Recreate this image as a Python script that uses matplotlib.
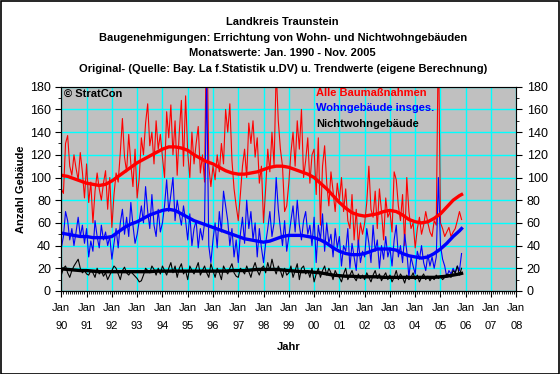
import numpy as np
import matplotlib
matplotlib.use("Agg")
import matplotlib.pyplot as plt
from matplotlib.ticker import MultipleLocator

plt.rcParams["font.family"] = ["Liberation Sans", "DejaVu Sans"]

# monthly values Jan 1990 - Nov 2005
alle = [
    90, 86, 130, 137, 110, 102, 120, 108, 98, 122, 105, 82,      # 1990
    112, 78, 96, 60, 88, 104, 90, 80, 95, 106, 72, 100,          # 1991
    56, 85, 104, 96, 122, 152, 118, 105, 138, 112, 92, 125,      # 1992
    82, 100, 135, 120, 148, 165, 128, 140, 112, 150, 125, 138,   # 1993
    118, 100, 158, 135, 164, 120, 150, 102, 140, 168, 110, 172,  # 1994
    122, 100, 140, 112, 130, 145, 104, 120, 96, 250, 110, 92,    # 1995
    110, 98, 120, 105, 130, 112, 160, 140, 165, 115, 90, 75,     # 1996
    62, 85, 110, 125, 100, 148, 130, 150, 118, 135, 95, 110,     # 1997
    60, 90, 125, 105, 140, 110, 195, 150, 125, 110, 70, 75,      # 1998
    95, 122, 140, 110, 150, 125, 160, 100, 115, 135, 95, 120,    # 1999
    125, 85, 135, 58, 110, 128, 95, 75, 105, 88, 70, 95,         # 2000
    80, 100, 70, 90, 62, 55, 85, 45, 72, 40, 60, 50,             # 2001
    60, 78, 110, 72, 65, 88, 55, 90, 70, 45, 82, 65,             # 2002
    70, 52, 105, 98, 75, 62, 85, 40, 100, 70, 55, 60,            # 2003
    38, 55, 65, 50, 58, 70, 60, 52, 48, 62, 58, 230,             # 2004
    60, 55, 48, 52, 56, 48, 52, 55, 62, 70, 63,                  # 2005
]
wohn = [
    38, 48, 70, 62, 45, 55, 40, 52, 65, 48, 58, 42,
    55, 30, 44, 35, 62, 48, 38, 58, 45, 52, 40, 48,
    28, 42, 55, 38, 60, 72, 50, 65, 48, 78, 58, 42,
    50, 62, 75, 60, 92, 70, 55, 85, 58, 48, 72, 52,
    60, 75, 98, 70, 85, 100, 62, 80, 68, 58, 75, 62,
    45, 68, 40, 55, 62, 38, 55, 45, 60, 190, 40, 25,
    45, 60, 38, 70, 52, 88, 75, 62, 40, 55, 30, 45,
    25, 50, 65, 42, 80, 55, 70, 45, 60, 30, 55, 38,
    25, 42, 55, 70, 48, 60, 100, 72, 55, 40, 62, 35,
    48, 62, 75, 52, 80, 58, 45, 62, 70, 50, 58, 40,
    65, 25, 58, 45, 68, 35, 60, 42, 50, 30, 55, 38,
    48, 22, 40, 35, 55, 20, 42, 30, 18, 45, 25, 35,
    30, 55, 42, 25, 58, 35, 45, 20, 40, 28, 48, 30,
    38, 22, 45, 58, 30, 40, 25, 50, 35, 12, 30, 22,
    15, 35, 28, 40, 25, 18, 32, 22, 30, 20, 30, 100,
    40, 28, 22, 12, 18, 15, 20, 16, 22, 18, 33,
]
nichtwohn = [
    14, 20, 22, 16, 12, 18, 22, 25, 28, 20, 16, 18,
    15, 14, 18, 16, 12, 20, 15, 18, 13, 16, 10, 14,
    18, 22, 20, 15, 10, 18, 21, 16, 14, 17, 15, 13,
    11, 8, 9, 14, 20, 18, 16, 22, 19, 14, 20, 15,
    22, 18, 14, 20, 25, 16, 22, 12, 20, 24, 15, 18,
    10, 22, 18, 15, 20, 25, 14, 18, 22, 16, 12, 24,
    18, 12, 20, 16, 10, 22, 18, 15, 20, 24, 16, 13,
    12, 20, 18, 15, 22, 17, 12, 20, 25, 18, 14, 20,
    22, 16, 25, 18, 28, 20, 15, 22, 18, 12, 20, 14,
    16, 22, 12, 18, 24, 10, 20, 22, 15, 18, 12, 20,
    8, 15, 20, 12, 18, 22, 14, 20, 16, 10, 18, 14,
    12, 8, 15, 20, 10, 14, 18, 12, 9, 15, 11, 14,
    10, 16, 12, 8, 14, 18, 11, 15, 9, 13, 16, 10,
    14, 8, 12, 18, 10, 15, 12, 7, 14, 10, 12, 16,
    10, 14, 8, 12, 15, 10, 13, 9, 12, 10, 14, 11,
    13, 10, 12, 15, 14, 12, 18, 16, 22, 14, 20,
]

# trend values, quarterly (Jan, Apr, Jul, Oct) 1990-2005 plus Nov 2005
trend_alle = [
    102, 101, 99, 97, 95, 94, 93, 94, 97, 101, 105, 109,
    113, 116, 119, 122, 125, 127, 127, 126, 124, 120, 117, 114,
    112, 109, 106, 104, 103, 103, 104, 105, 107, 109, 110, 110,
    109, 107, 105, 103, 100, 95, 90, 84, 78, 73, 69, 67,
    66, 67, 68, 70, 71, 70, 67, 63, 61, 60, 61, 64,
    68, 74, 80, 84, 85,
]
trend_wohn = [
    51, 50, 49, 48, 48, 47, 47, 47, 48, 52, 56, 59,
    61, 64, 67, 69, 71, 72, 71, 68, 65, 62, 60, 58,
    56, 54, 52, 50, 48, 46, 45, 44, 43, 44, 46, 48,
    49, 49, 49, 48, 47, 45, 42, 38, 35, 33, 32, 32,
    33, 35, 37, 37, 37, 36, 33, 31, 30, 29, 30, 33,
    37, 42, 48, 53, 55,
]
trend_nicht = [
    19.5, 19, 18.5, 18, 18, 17.5, 17, 17, 17, 17, 17, 17,
    17, 17, 17, 17.5, 17.5, 17.5, 17.5, 17.5, 17.5, 17.5, 17.5, 17.5,
    17.5, 17.5, 17.5, 18, 18, 18, 18.5, 19, 19, 19, 19, 18.5,
    18, 17.5, 17, 17, 16.5, 16, 15, 14, 13.5, 13, 13, 12.5,
    12.5, 12.5, 12.5, 12, 12, 12, 12, 12, 12, 12, 12, 12,
    12.5, 13, 14, 15, 15.5,
]

years = list(range(1990, 2009))
year_labels = [f"Jan\n{y % 100:02d}" for y in years]

titles = [
    "Landkreis Traunstein",
    "Baugenehmigungen: Errichtung von Wohn- und Nichtwohngebäuden",
    "Monatswerte: Jan. 1990 - Nov. 2005",
    "Original- (Quelle: Bay. La f.Statistik u.DV) u. Trendwerte (eigene Berechnung)",
]


def main():
    x_month = 1990 + np.arange(len(alle)) / 12
    x_trend = np.append(1990 + np.arange(64) / 4, 2005 + 10 / 12)

    fig = plt.figure(figsize=(5.6, 3.74), dpi=100)
    fig.patch.set_facecolor("white")
    fig.patches.append(plt.Rectangle((0.001, 0.001), 0.997, 0.996, transform=fig.transFigure,
                                     fill=False, edgecolor="black", linewidth=1.2))

    ax = fig.add_axes([0.1095, 0.222, 0.8125, 0.546])
    ax.set_facecolor("#C0C0C0")
    ax.set_xlim(1990, 2008)
    ax.set_ylim(0, 180)

    ax.plot(x_month, alle, color="red", lw=0.8)
    ax.plot(x_month, wohn, color="blue", lw=0.8)
    ax.plot(x_month, nichtwohn, color="black", lw=0.8)
    ax.plot(x_trend, trend_alle, color="red", lw=2.4)
    ax.plot(x_trend, trend_wohn, color="blue", lw=2.4)
    ax.plot(x_trend, trend_nicht, color="black", lw=2.4)

    ax.set_xticks(years)
    ax.set_xticklabels(year_labels, fontsize=8, linespacing=1.9)
    ax.xaxis.set_minor_locator(MultipleLocator(1 / 12))
    ax.yaxis.set_major_locator(MultipleLocator(20))
    ax.yaxis.set_minor_locator(MultipleLocator(10))
    ax.grid(True, which="major", color="#00FFFF", lw=1)
    ax.set_axisbelow(True)
    ax.tick_params(which="both", direction="out", labelsize=9)
    ax.tick_params(which="major", length=4)
    ax.tick_params(which="minor", length=2)
    ax.tick_params(axis="x", labelsize=8, pad=5)
    for s in ax.spines.values():
        s.set_color("#808080")
    ax.spines["bottom"].set_color("black")
    ax.spines["left"].set_color("black")

    ax2 = ax.twinx()
    ax2.set_ylim(0, 180)
    ax2.yaxis.set_major_locator(MultipleLocator(20))
    ax2.yaxis.set_minor_locator(MultipleLocator(10))
    ax2.tick_params(which="both", direction="out", labelsize=9)
    ax2.tick_params(which="major", length=4)
    ax2.tick_params(which="minor", length=2)
    ax2.spines["right"].set_color("black")

    ax.set_ylabel("Anzahl Gebäude", fontsize=8, fontweight="bold", labelpad=3)
    ax.set_xlabel("Jahr", fontsize=8, fontweight="bold", labelpad=8)

    for i, t in enumerate(titles):
        fig.text(0.505, 0.942 - i * 0.0425, t, ha="center", va="center",
                 fontsize=8, fontweight="bold")

    ax.text(0.006, 0.99, "© StratCon", transform=ax.transAxes, ha="left", va="top",
            fontsize=8, fontweight="bold")
    legend_items = [("Alle Baumaßnahmen", "red"), ("Wohngebäude insges.", "blue"),
                    ("Nichtwohngebäude", "black")]
    for i, (name, col) in enumerate(legend_items):
        ax.text(0.56, 0.995 - i * 0.076, name, transform=ax.transAxes, ha="left", va="top",
                fontsize=8, fontweight="bold", color=col)

    fig.savefig("out.png", dpi=100)


if __name__ == "__main__":
    main()
